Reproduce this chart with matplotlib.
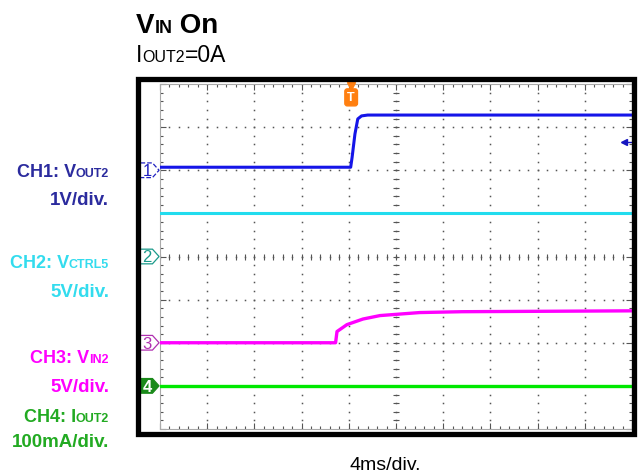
import matplotlib
matplotlib.use("Agg")
import matplotlib.pyplot as plt
import numpy as np
from matplotlib.patches import Rectangle, Polygon

plt.rcParams['font.family'] = ['Liberation Sans', 'DejaVu Sans']

# Trace data, time in divisions (0..10), level in divisions (0..8)
ch1_t = [0.0, 4.04, 4.07, 4.13, 4.19, 4.27, 4.4, 10.0]
ch1_v = [6.07, 6.07, 6.3, 6.84, 7.19, 7.26, 7.28, 7.28]
ch2_t = [0.0, 10.0]
ch2_v = [5.02, 5.02]
ch3_t = [0.0, 3.72, 3.75, 3.96, 4.3, 4.66, 5.5, 6.4, 10.0]
ch3_v = [2.0, 2.0, 2.26, 2.42, 2.55, 2.63, 2.70, 2.72, 2.74]
ch4_t = [0.0, 10.0]
ch4_v = [0.99, 0.99]

ch_levels = [6, 4, 2, 1]          # channel ground markers
trig_time = 4.05
trig_level = 6.65

titles = ["V", "IN", " On"]
subtitle = ["I", "OUT2", "=0A"]
ch_names = ["CH1: V", "CH2: V", "CH3: V", "CH4: I"]
ch_subs = ["OUT2", "CTRL5", "IN2", "OUT2"]
ch_scales = ["1V/div.", "5V/div.", "5V/div.", "100mA/div."]
time_scale = "4ms/div."

trace_colors = ['#1515e8', '#22dcee', '#ff00ff', '#00e800']
label_colors = ['#2b2b9e', '#33dcee', '#ff00ff', '#22aa22']
tag_colors = ['#2020c0', '#1a9a8a', '#b030b0', '#1a8a1a']

W, H = 638, 477
fig = plt.figure(figsize=(W / 100, H / 100), dpi=100)
ax = fig.add_axes([160 / W, 1 - 430 / H, 472 / W, 345 / H])
ax.set_xlim(0, 10)
ax.set_ylim(0, 8)

# scope graticule
ax.set_xticks(range(11))
ax.set_yticks(range(9))
ax.set_xticks(np.arange(0, 10.01, 0.2), minor=True)
ax.set_yticks(np.arange(0, 8.01, 0.2), minor=True)
ax.tick_params(which='both', direction='in', top=True, right=True,
               labelbottom=False, labelleft=False, color='#555555', width=0.8)
ax.tick_params(which='major', length=4)
ax.tick_params(which='minor', length=2.5)
for s in ax.spines.values():
    s.set_color('#aaaaaa')
    s.set_linewidth(0.8)

fine_y = np.arange(0, 8.01, 0.2)
fine_x = np.arange(0, 10.01, 0.2)
for i in range(1, 10):
    ax.plot(np.full_like(fine_y, i), fine_y, ls='none', marker='s', ms=1.1,
            color='#555555', mew=0)
for j in range(1, 8):
    ax.plot(fine_x, np.full_like(fine_x, j), ls='none', marker='s', ms=1.1,
            color='#555555', mew=0)
ax.plot(fine_x, np.full_like(fine_x, 4), ls='none', marker='|', ms=4,
        color='#555555', mew=0.8)
ax.plot(np.full_like(fine_y, 5), fine_y, ls='none', marker='_', ms=4,
        color='#555555', mew=0.8)

# traces
ax.plot(ch2_t, ch2_v, color=trace_colors[1], lw=2.2, zorder=5)
ax.plot(ch4_t, ch4_v, color=trace_colors[3], lw=2.4, zorder=5)
ax.plot(ch3_t, ch3_v, color=trace_colors[2], lw=2.4, zorder=5)
ax.plot(ch1_t, ch1_v, color=trace_colors[0], lw=2.2, zorder=5)

# channel tags
for k, lev in enumerate(ch_levels):
    pts = [(-0.43, lev - 0.17), (-0.16, lev - 0.17), (-0.02, lev),
           (-0.16, lev + 0.17), (-0.43, lev + 0.17)]
    filled = k == 3
    poly = Polygon(pts, closed=True, clip_on=False, lw=0.9,
                   ls='--' if k == 0 else '-',
                   fc=tag_colors[k] if filled else 'white', ec=tag_colors[k], zorder=6)
    ax.add_patch(poly)
    ax.text(-0.27, lev - 0.01, str(k + 1), ha='center', va='center', fontsize=12,
            fontweight='bold' if filled else 'normal',
            color='white' if filled else tag_colors[k], clip_on=False, zorder=7)

# trigger marker
ax.plot([trig_time], [7.96], marker='v', ms=6, color='#ff7f10', clip_on=False, zorder=7)
ax.text(trig_time, 7.69, "T", ha='center', va='center', fontsize=9, fontweight='bold',
        color='white', zorder=7,
        bbox=dict(boxstyle='round,pad=0.2', fc='#ff7f10', ec='#ff7f10'))
ax.plot([9.8, 10.0], [trig_level, trig_level], color='#1515c0', lw=1, zorder=7)
ax.plot([9.84], [trig_level], marker='<', ms=5, color='#1515c0', zorder=7)

# outer frame
fig.add_artist(Rectangle((138 / W, 1 - 435 / H), (634 - 138) / W, (435 - 80) / H,
                         transform=fig.transFigure, fill=False, lw=3.8, ec='black'))

renderer = fig.canvas.get_renderer()


def rich(x, y, parts, ha='left'):
    """parts: (text, size, weight, color); x, y in pixels from top-left, y = baseline"""
    texts = [fig.text(0, 1 - y / H, s, fontsize=fs, fontweight=w, color=c, va='baseline')
             for s, fs, w, c in parts]
    widths = [t.get_window_extent(renderer).width for t in texts]
    total = sum(widths)
    start = x - total if ha == 'right' else (x - total / 2 if ha == 'center' else x)
    for t, w in zip(texts, widths):
        t.set_x(start / W)
        start += w


rich(136, 33, [(titles[0], 20, 'bold', 'black'), (titles[1], 13, 'bold', 'black'),
               (titles[2], 20, 'bold', 'black')])
rich(136, 62, [(subtitle[0], 16.5, 'normal', 'black'), (subtitle[1], 11.5, 'normal', 'black'),
               (subtitle[2], 16.5, 'normal', 'black')])

name_y = [177, 268, 363, 422]
scale_y = [205, 297, 392, 447]
for k in range(4):
    c = label_colors[k]
    rich(109, name_y[k], [(ch_names[k], 13, 'bold', c), (ch_subs[k], 9, 'bold', c)],
         ha='right')
    rich(109, scale_y[k], [(ch_scales[k], 13.5, 'bold', c)], ha='right')

rich(385, 470, [(time_scale, 14, 'normal', 'black')], ha='center')

fig.savefig("out.png", dpi=100)
